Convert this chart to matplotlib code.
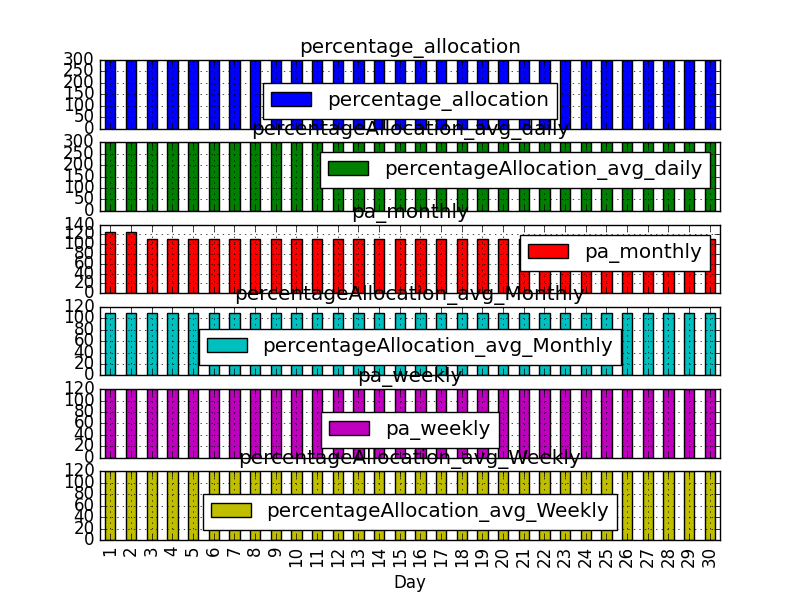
import matplotlib
matplotlib.use('Agg')
import matplotlib.pyplot as plt

plt.style.use('classic')

days = [1, 2, 3, 4, 5, 6, 7, 8, 9, 10, 11, 12, 13, 14, 15,
        16, 17, 18, 19, 20, 21, 22, 23, 24, 25, 26, 27, 28, 29, 30]

percentage_allocation = [300, 300, 300, 300, 300, 300, 300, 300, 300, 300,
                         300, 300, 300, 300, 300, 300, 300, 300, 300, 300,
                         300, 300, 300, 300, 300, 300, 300, 300, 300, 300]
avg_daily = [300, 300, 300, 300, 300, 300, 300, 300, 300, 300,
             300, 300, 300, 300, 300, 300, 300, 300, 300, 300,
             300, 300, 300, 300, 300, 300, 300, 300, 300, 300]
pa_monthly = [125, 125, 110, 110, 110, 110, 110, 110, 110, 110,
              110, 110, 110, 110, 110, 110, 110, 110, 110, 110,
              110, 110, 110, 110, 110, 110, 110, 110, 110, 110]
avg_monthly = [110, 110, 110, 110, 110, 110, 110, 110, 110, 110,
               110, 110, 110, 110, 110, 110, 110, 110, 110, 110,
               110, 110, 110, 110, 110, 110, 110, 110, 110, 110]
pa_weekly = [120, 120, 120, 120, 120, 120, 120, 120, 120, 120,
             120, 120, 120, 120, 120, 120, 120, 120, 120, 120,
             120, 120, 120, 120, 120, 120, 120, 120, 120, 120]
avg_weekly = [120, 120, 120, 120, 120, 120, 120, 120, 120, 120,
              120, 120, 120, 120, 120, 120, 120, 120, 120, 120,
              120, 120, 120, 120, 120, 120, 120, 120, 120, 120]

series = [
    ('percentage_allocation', percentage_allocation, 'b', dict(loc='lower center')),
    ('percentageAllocation_avg_daily', avg_daily, 'g',
     dict(loc='center right', bbox_to_anchor=(1.0, 0.596))),
    ('pa_monthly', pa_monthly, 'r', dict(loc='upper right')),
    ('percentageAllocation_avg_Monthly', avg_monthly, 'c', dict(loc='lower center')),
    ('pa_weekly', pa_weekly, 'm', dict(loc='lower center')),
    ('percentageAllocation_avg_Weekly', avg_weekly, 'y', dict(loc='lower center')),
]

fig, axes = plt.subplots(6, 1, sharex=True, figsize=(8, 6), dpi=100)
pos = list(range(len(days)))

for ax, (name, vals, col, legkw) in zip(axes, series):
    ax.bar(pos, vals, width=0.5, color=col, align='center', label=name)
    ax.set_title(name)
    ax.grid(True)
    ax.set_xlim(-0.5, len(days) - 0.5)
    ax.legend(**legkw)

axes[-1].set_xticks(pos)
axes[-1].set_xticklabels([str(d) for d in days], rotation=90)
axes[-1].set_xlabel('Day')

fig.savefig('out.png', dpi=100)
